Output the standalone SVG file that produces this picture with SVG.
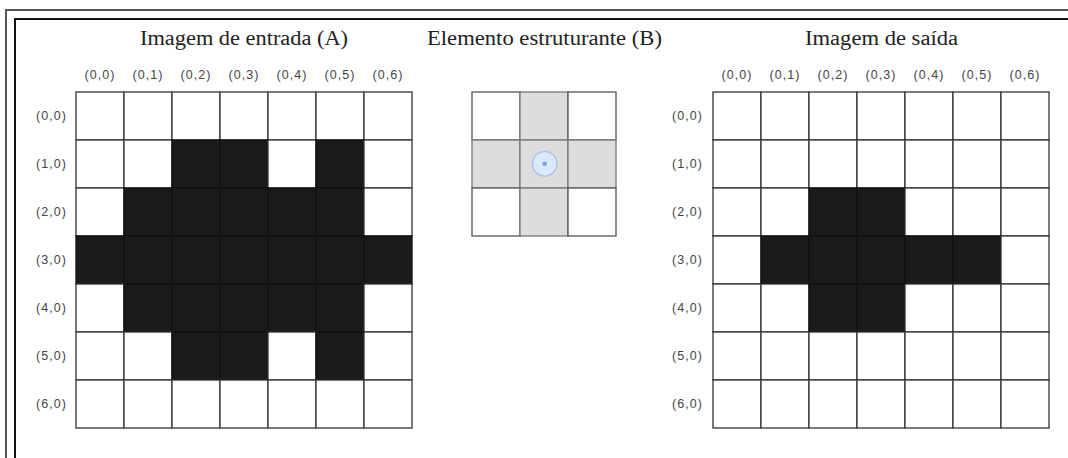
<svg xmlns="http://www.w3.org/2000/svg" width="1068" height="458" viewBox="0 0 1068 458">
<style>
.c{fill:#ffffff;stroke:#333333;stroke-width:1.3}
.k{fill:#1a1a1a;stroke:#111111;stroke-width:1.3}
.g{fill:#dddddd;stroke:#777777;stroke-width:1.3}
.w{fill:#ffffff;stroke:#555555;stroke-width:1.3}
.t{font-family:"Liberation Serif",serif;font-size:20px;fill:#222222;text-anchor:middle}
.l{font-family:"Liberation Sans",Arial,sans-serif;font-size:12.5px;letter-spacing:1.1px;fill:#444444;text-anchor:middle}
</style>
<rect x="0" y="0" width="1068" height="458" fill="#ffffff"/>
<g id="frame" fill="none">
<rect x="6" y="10" width="1080" height="470" stroke="#555555" stroke-width="2"/>
<rect x="15" y="19" width="1080" height="470" stroke="#111111" stroke-width="2"/>
</g>
<g id="titles">
<text class="t" x="244" y="45" textLength="208" lengthAdjust="spacingAndGlyphs">Imagem de entrada (A)</text>
<text class="t" x="544.5" y="45" textLength="235" lengthAdjust="spacingAndGlyphs">Elemento estruturante (B)</text>
<text class="t" x="881.5" y="45" textLength="153" lengthAdjust="spacingAndGlyphs">Imagem de saída</text>
</g>
<g id="input-image">
<g class="labels">
<text class="l" x="100" y="79">(0,0)</text>
<text class="l" x="148" y="79">(0,1)</text>
<text class="l" x="196" y="79">(0,2)</text>
<text class="l" x="244" y="79">(0,3)</text>
<text class="l" x="292" y="79">(0,4)</text>
<text class="l" x="340" y="79">(0,5)</text>
<text class="l" x="388" y="79">(0,6)</text>
<text class="l" x="51.5" y="120">(0,0)</text>
<text class="l" x="51.5" y="168">(1,0)</text>
<text class="l" x="51.5" y="216">(2,0)</text>
<text class="l" x="51.5" y="264">(3,0)</text>
<text class="l" x="51.5" y="312">(4,0)</text>
<text class="l" x="51.5" y="360">(5,0)</text>
<text class="l" x="51.5" y="408">(6,0)</text>
</g>
<rect class="c" x="76" y="92" width="48" height="48"/><rect class="c" x="124" y="92" width="48" height="48"/><rect class="c" x="172" y="92" width="48" height="48"/><rect class="c" x="220" y="92" width="48" height="48"/><rect class="c" x="268" y="92" width="48" height="48"/><rect class="c" x="316" y="92" width="48" height="48"/><rect class="c" x="364" y="92" width="48" height="48"/>
<rect class="c" x="76" y="140" width="48" height="48"/><rect class="c" x="124" y="140" width="48" height="48"/><rect class="k" x="172" y="140" width="48" height="48"/><rect class="k" x="220" y="140" width="48" height="48"/><rect class="c" x="268" y="140" width="48" height="48"/><rect class="k" x="316" y="140" width="48" height="48"/><rect class="c" x="364" y="140" width="48" height="48"/>
<rect class="c" x="76" y="188" width="48" height="48"/><rect class="k" x="124" y="188" width="48" height="48"/><rect class="k" x="172" y="188" width="48" height="48"/><rect class="k" x="220" y="188" width="48" height="48"/><rect class="k" x="268" y="188" width="48" height="48"/><rect class="k" x="316" y="188" width="48" height="48"/><rect class="c" x="364" y="188" width="48" height="48"/>
<rect class="k" x="76" y="236" width="48" height="48"/><rect class="k" x="124" y="236" width="48" height="48"/><rect class="k" x="172" y="236" width="48" height="48"/><rect class="k" x="220" y="236" width="48" height="48"/><rect class="k" x="268" y="236" width="48" height="48"/><rect class="k" x="316" y="236" width="48" height="48"/><rect class="k" x="364" y="236" width="48" height="48"/>
<rect class="c" x="76" y="284" width="48" height="48"/><rect class="k" x="124" y="284" width="48" height="48"/><rect class="k" x="172" y="284" width="48" height="48"/><rect class="k" x="220" y="284" width="48" height="48"/><rect class="k" x="268" y="284" width="48" height="48"/><rect class="k" x="316" y="284" width="48" height="48"/><rect class="c" x="364" y="284" width="48" height="48"/>
<rect class="c" x="76" y="332" width="48" height="48"/><rect class="c" x="124" y="332" width="48" height="48"/><rect class="k" x="172" y="332" width="48" height="48"/><rect class="k" x="220" y="332" width="48" height="48"/><rect class="c" x="268" y="332" width="48" height="48"/><rect class="k" x="316" y="332" width="48" height="48"/><rect class="c" x="364" y="332" width="48" height="48"/>
<rect class="c" x="76" y="380" width="48" height="48"/><rect class="c" x="124" y="380" width="48" height="48"/><rect class="c" x="172" y="380" width="48" height="48"/><rect class="c" x="220" y="380" width="48" height="48"/><rect class="c" x="268" y="380" width="48" height="48"/><rect class="c" x="316" y="380" width="48" height="48"/><rect class="c" x="364" y="380" width="48" height="48"/>
</g>
<g id="structuring-element">
<rect class="w" x="472" y="92" width="48" height="48"/><rect class="g" x="520" y="92" width="48" height="48"/><rect class="w" x="568" y="92" width="48" height="48"/>
<rect class="g" x="472" y="140" width="48" height="48"/><rect class="g" x="520" y="140" width="48" height="48"/><rect class="g" x="568" y="140" width="48" height="48"/>
<rect class="w" x="472" y="188" width="48" height="48"/><rect class="g" x="520" y="188" width="48" height="48"/><rect class="w" x="568" y="188" width="48" height="48"/>
<circle cx="544.7" cy="163.8" r="12.3" fill="#dae8fc" stroke="#a9bfe3" stroke-width="1.3"/>
<circle cx="544.7" cy="163.8" r="2.3" fill="#7e9fdc"/>
</g>
<g id="output-image">
<g class="labels">
<text class="l" x="737" y="79">(0,0)</text>
<text class="l" x="785" y="79">(0,1)</text>
<text class="l" x="833" y="79">(0,2)</text>
<text class="l" x="881" y="79">(0,3)</text>
<text class="l" x="929" y="79">(0,4)</text>
<text class="l" x="977" y="79">(0,5)</text>
<text class="l" x="1025" y="79">(0,6)</text>
<text class="l" x="687.5" y="120">(0,0)</text>
<text class="l" x="687.5" y="168">(1,0)</text>
<text class="l" x="687.5" y="216">(2,0)</text>
<text class="l" x="687.5" y="264">(3,0)</text>
<text class="l" x="687.5" y="312">(4,0)</text>
<text class="l" x="687.5" y="360">(5,0)</text>
<text class="l" x="687.5" y="408">(6,0)</text>
</g>
<rect class="c" x="713" y="92" width="48" height="48"/><rect class="c" x="761" y="92" width="48" height="48"/><rect class="c" x="809" y="92" width="48" height="48"/><rect class="c" x="857" y="92" width="48" height="48"/><rect class="c" x="905" y="92" width="48" height="48"/><rect class="c" x="953" y="92" width="48" height="48"/><rect class="c" x="1001" y="92" width="48" height="48"/>
<rect class="c" x="713" y="140" width="48" height="48"/><rect class="c" x="761" y="140" width="48" height="48"/><rect class="c" x="809" y="140" width="48" height="48"/><rect class="c" x="857" y="140" width="48" height="48"/><rect class="c" x="905" y="140" width="48" height="48"/><rect class="c" x="953" y="140" width="48" height="48"/><rect class="c" x="1001" y="140" width="48" height="48"/>
<rect class="c" x="713" y="188" width="48" height="48"/><rect class="c" x="761" y="188" width="48" height="48"/><rect class="k" x="809" y="188" width="48" height="48"/><rect class="k" x="857" y="188" width="48" height="48"/><rect class="c" x="905" y="188" width="48" height="48"/><rect class="c" x="953" y="188" width="48" height="48"/><rect class="c" x="1001" y="188" width="48" height="48"/>
<rect class="c" x="713" y="236" width="48" height="48"/><rect class="k" x="761" y="236" width="48" height="48"/><rect class="k" x="809" y="236" width="48" height="48"/><rect class="k" x="857" y="236" width="48" height="48"/><rect class="k" x="905" y="236" width="48" height="48"/><rect class="k" x="953" y="236" width="48" height="48"/><rect class="c" x="1001" y="236" width="48" height="48"/>
<rect class="c" x="713" y="284" width="48" height="48"/><rect class="c" x="761" y="284" width="48" height="48"/><rect class="k" x="809" y="284" width="48" height="48"/><rect class="k" x="857" y="284" width="48" height="48"/><rect class="c" x="905" y="284" width="48" height="48"/><rect class="c" x="953" y="284" width="48" height="48"/><rect class="c" x="1001" y="284" width="48" height="48"/>
<rect class="c" x="713" y="332" width="48" height="48"/><rect class="c" x="761" y="332" width="48" height="48"/><rect class="c" x="809" y="332" width="48" height="48"/><rect class="c" x="857" y="332" width="48" height="48"/><rect class="c" x="905" y="332" width="48" height="48"/><rect class="c" x="953" y="332" width="48" height="48"/><rect class="c" x="1001" y="332" width="48" height="48"/>
<rect class="c" x="713" y="380" width="48" height="48"/><rect class="c" x="761" y="380" width="48" height="48"/><rect class="c" x="809" y="380" width="48" height="48"/><rect class="c" x="857" y="380" width="48" height="48"/><rect class="c" x="905" y="380" width="48" height="48"/><rect class="c" x="953" y="380" width="48" height="48"/><rect class="c" x="1001" y="380" width="48" height="48"/>
</g>
</svg>
